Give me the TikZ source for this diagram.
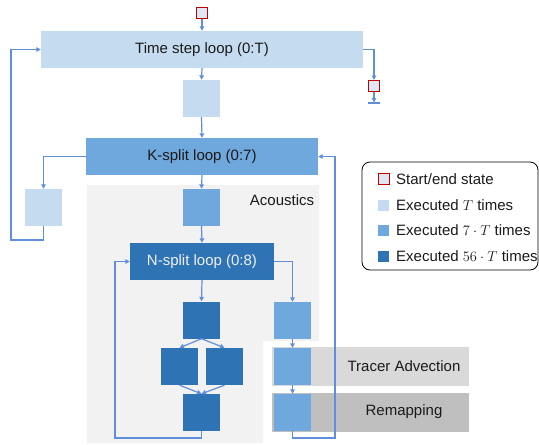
\documentclass[tikz,border=0pt]{standalone}
\usepackage{fontspec}
\setmainfont{Liberation Sans}
\usetikzlibrary{arrows.meta}
\definecolor{lb}{HTML}{C5DCF0}
\definecolor{mb}{HTML}{6FA8DC}
\definecolor{db}{HTML}{2E74B5}
\definecolor{ln}{HTML}{5F8FDC}
\definecolor{bg}{HTML}{F2F2F2}
\definecolor{ta}{HTML}{D9D9D9}
\definecolor{rm}{HTML}{BFBFBF}
\definecolor{se}{HTML}{DDE8F4}
\definecolor{sered}{HTML}{C00000}
\definecolor{tx}{HTML}{1A1A1A}
\begin{document}
\begin{tikzpicture}[x=1pt,y=-1pt,
  font=\fontsize{15}{18}\selectfont, text=tx,
  box/.style={rectangle, inner sep=0pt, minimum width=37pt, minimum height=37pt},
  lbox/.style={box, fill=lb},
  mbox/.style={box, fill=mb},
  dbox/.style={box, fill=db},
  loopbox/.style={rectangle, inner sep=0pt, minimum height=37pt},
  sestate/.style={rectangle, inner sep=0pt, minimum width=10.5pt, minimum height=10.5pt, fill=se, draw=sered, line width=1pt},
  band/.style={rectangle, inner sep=0pt, minimum width=197pt, minimum height=39pt},
  conn/.style={draw=ln, line width=1.2pt, -{Triangle[length=4.5pt,width=4.5pt]}},
  plain/.style={draw=ln, line width=1.2pt},
  licon/.style={rectangle, inner sep=0pt, minimum width=11pt, minimum height=11pt},
  ltext/.style={anchor=west, inner sep=0pt}
]
\useasboundingbox (0,0) rectangle (539,445);

% acoustics background
\fill[bg] (87,185) -- (319,185) -- (319,341) -- (263,341) -- (263,443) -- (87,443) -- cycle;
\node[anchor=center] (acl) at (282,200) {Acoustics};

% bands
\node[band, fill=ta] (trb) at (370.5,366.5) {};
\node (trl) at (404,366) {Tracer Advection};
\node[band, fill=rm] (rmb) at (370.5,412.5) {};
\node (rml) at (404,412) {Remapping};

% nodes
\node[sestate] (start) at (202,13) {};
\node[loopbox, fill=lb, minimum width=322pt] (ts) at (202,49.5) {Time step loop (0:T)};
\node[lbox] (b1) at (201.5,98.5) {};
\node[loopbox, fill=mb, minimum width=232pt] (ks) at (202,156.5) {K-split loop (0:7)};
\node[lbox] (bl) at (43.5,207.5) {};
\node[mbox] (b2) at (201.5,207.5) {};
\node[loopbox, fill=db, minimum width=144pt, text=white!94!black] (ns) at (202,261.5) {N-split loop (0:8)};
\node[dbox] (n1) at (201.5,320) {};
\node[dbox] (n2) at (179.5,366.5) {};
\node[dbox] (n3) at (224.5,366.5) {};
\node[dbox] (n4) at (201.5,412.5) {};
\node[mbox] (r1) at (292.5,320.5) {};
\node[mbox] (r2) at (292.5,366.5) {};
\node[mbox] (r3) at (292.5,412.5) {};
\node[sestate, minimum width=11pt, minimum height=11pt] (end) at (374,86) {};
\coordinate (eb) at (374,102.5);
\coordinate (ebl) at (368,103);
\coordinate (ebr) at (380,103);

% connectors
\draw[conn] (start.south) -- (ts.north);
\draw[conn] (ts.south) -- (b1.north);
\draw[conn] (b1.south) -- (ks.north);
\draw[conn] (ks.west) -| (bl.north);
\coordinate (c1) at (11,240);
\draw[conn] (bl.south) |- (c1) |- (ts.west);
\draw[conn] (ts.east) -| (end.north);
\draw[conn] (end.south) -- (eb);
\draw[plain] (ebl) -- (ebr);
\draw[conn] (ks.south) -- (b2.north);
\draw[conn] (b2.south) -- (ns.north);
\draw[conn] (ns.south) -- (n1.north);
\draw[conn] (n1.south) -- (n2.north);
\draw[conn] (n1.south) -- (n3.north);
\draw[conn] (n2.south) -- (n4.north);
\draw[conn] (n3.south) -- (n4.north);
\coordinate (c2) at (115,438);
\draw[conn] (n4.south) |- (c2) |- (ns.west);
\draw[conn] (ns.east) -| (r1.north);
\draw[conn] (r1.south) -- (r2.north);
\draw[conn] (r2.south) -- (r3.north);
\coordinate (c3) at (335,438);
\draw[conn] (r3.south) |- (c3) |- (ks.east);

% legend
\node[draw=black, line width=0.8pt, rounded corners=8pt, minimum width=176pt, minimum height=108pt, inner sep=0pt] (leg) at (450,216) {};
\node[licon, fill=se, draw=sered, line width=1pt] (li1) at (383.5,179) {};
\node[ltext] (lt1) at (396,179) {Start/end state};
\node[licon, fill=lb] (li2) at (383.5,205) {};
\node[ltext] (lt2) at (396,205) {Executed $T$ times};
\node[licon, fill=mb] (li3) at (383.5,230.5) {};
\node[ltext] (lt3) at (396,230.5) {Executed $7\cdot T$ times};
\node[licon, fill=db] (li4) at (383.5,256) {};
\node[ltext] (lt4) at (396,256) {Executed $56\cdot T$ times};
\end{tikzpicture}
\end{document}
